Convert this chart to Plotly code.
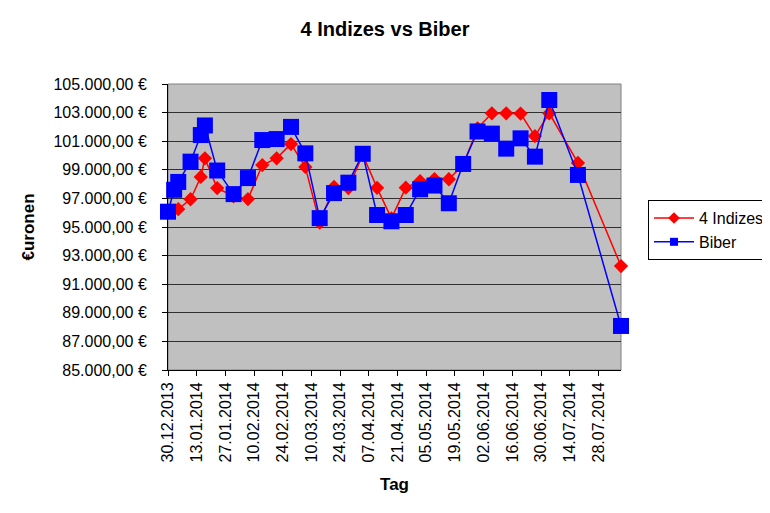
import plotly.graph_objects as go

# --- data ---
biber_dates = [
    "2013-12-30", "2014-01-02", "2014-01-04", "2014-01-10", "2014-01-15", "2014-01-17",
    "2014-01-23", "2014-01-31", "2014-02-07", "2014-02-14", "2014-02-21", "2014-02-28",
    "2014-03-07", "2014-03-14", "2014-03-21", "2014-03-28", "2014-04-04", "2014-04-11",
    "2014-04-18", "2014-04-25", "2014-05-02", "2014-05-09", "2014-05-16", "2014-05-23",
    "2014-05-30", "2014-06-06", "2014-06-13", "2014-06-20", "2014-06-27", "2014-07-04",
    "2014-07-18", "2014-08-08",
]
biber_values = [
    96070, 97600, 98150, 99570, 101430, 102100,
    98950, 97300, 98420, 101080, 101150, 102000,
    100150, 95620, 97370, 98100, 100120, 95840,
    95400, 95840, 97640, 97900, 96660, 99410,
    101680, 101530, 100480, 101200, 99920, 103880,
    98640, 88080,
]

indizes_dates = [
    "2013-12-30", "2014-01-04", "2014-01-10", "2014-01-15", "2014-01-17",
    "2014-01-23", "2014-01-31", "2014-02-07", "2014-02-14", "2014-02-21", "2014-02-28",
    "2014-03-07", "2014-03-14", "2014-03-21", "2014-03-28", "2014-04-04", "2014-04-11",
    "2014-04-18", "2014-04-25", "2014-05-02", "2014-05-09", "2014-05-16", "2014-05-23",
    "2014-05-30", "2014-06-06", "2014-06-13", "2014-06-20", "2014-06-27", "2014-07-04",
    "2014-07-18", "2014-08-08",
]
indizes_values = [
    96050, 96250, 96940, 98500, 99800,
    97720, 97150, 96950, 99330, 99800, 100800,
    99200, 95300, 97800, 97720, 100050, 97740,
    95600, 97750, 98200, 98350, 98340, 99350,
    101900, 102950, 102950, 102930, 101360, 102950,
    99480, 92270,
]

title_text = "4 Indizes vs Biber"
x_title = "Tag"
y_title = "€uronen"
series_names = ["4 Indizes", "Biber"]
series_colors = ["#FF0000", "#0000FF"]

FONT = "Liberation Sans, Arial, sans-serif"
DAY_MS = 86400000
W, H = 762, 505  # page body has an 8px margin

fig = go.Figure()
fig.add_trace(go.Scatter(
    x=indizes_dates, y=indizes_values, name=series_names[0], mode="lines+markers",
    line=dict(color=series_colors[0], width=1.5), cliponaxis=False, showlegend=False,
    legendgroup="a",
    marker=dict(symbol="diamond", size=11, color=series_colors[0], line=dict(width=0)),
))
fig.add_trace(go.Scatter(
    x=biber_dates, y=biber_values, name=series_names[1], mode="lines+markers",
    line=dict(color=series_colors[1], width=1.5), cliponaxis=False, showlegend=False,
    legendgroup="b",
    marker=dict(symbol="square", size=16, color=series_colors[1], line=dict(width=0)),
))
# legend entries with Excel-like small markers
fig.add_trace(go.Scatter(
    x=[None], y=[None], name=series_names[0], mode="lines+markers", legendgroup="a",
    line=dict(color=series_colors[0], width=1.5),
    marker=dict(symbol="diamond", size=9, color=series_colors[0], line=dict(width=0)),
))
fig.add_trace(go.Scatter(
    x=[None], y=[None], name=series_names[1], mode="lines+markers", legendgroup="b",
    line=dict(color=series_colors[1], width=1.5),
    marker=dict(symbol="square", size=8, color=series_colors[1], line=dict(width=0)),
))

fig.update_layout(
    width=W, height=H,
    margin=dict(l=160, r=149, t=76, b=143, autoexpand=False),
    paper_bgcolor="white", plot_bgcolor="#C0C0C0",
    separators=",.",
    font=dict(family=FONT, size=16, color="black"),
    title=dict(text="<b>" + title_text + "</b>", x=377 / W, xref="container",
               y=1 - 21 / H, yref="container", yanchor="middle", xanchor="center",
               font=dict(size=20, family=FONT, color="black")),
    showlegend=True,
    legend=dict(x=1.0596, xanchor="left", y=0.594, yanchor="top",
                bordercolor="black", borderwidth=1, bgcolor="white",
                font=dict(size=16, family=FONT), itemwidth=40,
                tracegroupgap=0),
    shapes=[dict(type="rect", xref="paper", yref="paper", x0=0, x1=1, y0=0, y1=1,
                 line=dict(color="#808080", width=1), layer="below")],
)

fig.update_xaxes(
    type="date", range=["2013-12-30", "2014-08-08"], automargin=False,
    tick0="2013-12-30", dtick=14 * DAY_MS, tickformat="%d.%m.%Y", tickangle=-90,
    ticks="outside", ticklen=5, tickcolor="black", tickwidth=1,
    showline=True, linecolor="black", linewidth=1,
    showgrid=False, zeroline=False,
    tickfont=dict(size=16, family=FONT),
    title=dict(text="<b>" + x_title + "</b>", font=dict(size=17, family=FONT), standoff=16),
)
fig.update_yaxes(
    range=[85000, 105000], dtick=2000, tick0=85000, automargin=False,
    tickformat=",.2f", ticksuffix=" €",
    ticks="outside", ticklen=5, tickcolor="black", tickwidth=1,
    showline=True, linecolor="black", linewidth=1,
    showgrid=True, gridcolor="#303030", gridwidth=1, zeroline=False,
    tickfont=dict(size=16, family=FONT),
    ticklabelstandoff=12,
    title=dict(text="<b>" + y_title + "</b>", font=dict(size=17, family=FONT), standoff=14),
)

fig.write_html("out.html")
